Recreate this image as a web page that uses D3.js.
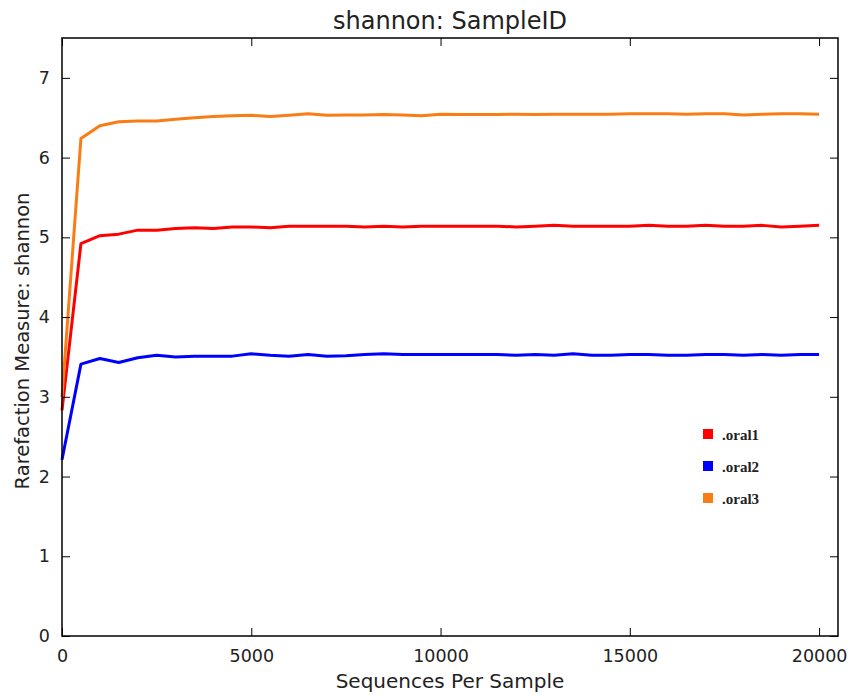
<!DOCTYPE html>
<html>
<head>
<meta charset="utf-8">
<script src="https://cdn.jsdelivr.net/npm/d3@7"></script>
<style>
  html, body { margin: 0; padding: 0; background: #fff; }
  svg { display: block; }
</style>
</head>
<body>
<div id="chart"></div>
<script>
// Rarefaction depths (sequences per sample)
const depths = d3.range(0, 20001, 500);

// Shannon diversity at each depth, one array per sample
const oral1 = [2.83, 4.92, 5.02, 5.04, 5.09, 5.09, 5.11, 5.12, 5.11, 5.13, 5.13, 5.12, 5.14, 5.14, 5.14, 5.14, 5.13, 5.14, 5.13, 5.14, 5.14,
               5.14, 5.14, 5.14, 5.13, 5.14, 5.15, 5.14, 5.14, 5.14, 5.14, 5.15, 5.14, 5.14, 5.15, 5.14, 5.14, 5.15, 5.13, 5.14, 5.15];
const oral2 = [2.21, 3.41, 3.48, 3.43, 3.49, 3.52, 3.50, 3.51, 3.51, 3.51, 3.54, 3.52, 3.51, 3.53, 3.51, 3.515, 3.53, 3.54, 3.53, 3.53, 3.53,
               3.53, 3.53, 3.53, 3.52, 3.53, 3.52, 3.54, 3.52, 3.52, 3.53, 3.53, 3.52, 3.52, 3.53, 3.53, 3.52, 3.53, 3.52, 3.53, 3.53];
const oral3 = [3.00, 6.24, 6.40, 6.45, 6.46, 6.46, 6.48, 6.50, 6.515, 6.525, 6.53, 6.515, 6.53, 6.55, 6.53, 6.535, 6.535, 6.54, 6.535, 6.525, 6.545,
               6.54, 6.54, 6.54, 6.545, 6.54, 6.545, 6.545, 6.545, 6.545, 6.55, 6.55, 6.55, 6.545, 6.55, 6.55, 6.535, 6.545, 6.55, 6.55, 6.545];

const sampleNames = [".oral1", ".oral2", ".oral3"];
const sampleColors = ["#ff0000", "#0000ff", "#f97d14"];
const sampleValues = [oral1, oral2, oral3];

const xTicks = [0, 5000, 10000, 15000, 20000];
const yTicks = [0, 1, 2, 3, 4, 5, 6, 7];

const W = 851, H = 696;
const margin = { left: 62, right: 13, top: 38, bottom: 60 };
const iw = W - margin.left - margin.right;
const ih = H - margin.top - margin.bottom;

const svg = d3.select("#chart").append("svg")
  .attr("width", W).attr("height", H)
  .style("font-family", "'DejaVu Sans', sans-serif");

const g = svg.append("g").attr("transform", `translate(${margin.left},${margin.top})`);

const x = d3.scaleLinear().domain([0, 20500]).range([0, iw]);
const y = d3.scaleLinear().domain([0, 7.5]).range([ih, 0]);

// Lines
const line = d3.line()
  .x((d, i) => x(depths[i]))
  .y(d => y(d));

g.selectAll("path.series")
  .data(sampleValues)
  .enter().append("path")
  .attr("class", "series")
  .attr("fill", "none")
  .attr("stroke", (d, i) => sampleColors[i])
  .attr("stroke-width", 3)
  .attr("stroke-linejoin", "round")
  .attr("d", line);

// Axes with inward ticks on all four sides
const tickLen = 8;
const styleAxis = sel => {
  sel.select(".domain").remove();
  sel.selectAll(".tick line").attr("stroke", "#000").attr("stroke-width", 1);
  sel.selectAll(".tick text").attr("fill", "#222").style("font-size", "17.5px")
    .style("font-family", "'DejaVu Sans', sans-serif");
};

g.append("g").attr("transform", `translate(0,${ih})`)
  .call(d3.axisBottom(x).tickValues(xTicks).tickFormat(d3.format("d"))
    .tickSizeInner(-tickLen).tickSizeOuter(0).tickPadding(14))
  .call(styleAxis);

g.append("g")
  .call(d3.axisTop(x).tickValues(xTicks).tickFormat("")
    .tickSizeInner(-tickLen).tickSizeOuter(0))
  .call(styleAxis);

g.append("g")
  .call(d3.axisLeft(y).tickValues(yTicks).tickFormat(d3.format("d"))
    .tickSizeInner(-tickLen).tickSizeOuter(0).tickPadding(12))
  .call(styleAxis);

g.append("g").attr("transform", `translate(${iw},0)`)
  .call(d3.axisRight(y).tickValues(yTicks).tickFormat("")
    .tickSizeInner(-tickLen).tickSizeOuter(0))
  .call(styleAxis);

// Frame
g.append("rect")
  .attr("x", 0).attr("y", 0).attr("width", iw).attr("height", ih)
  .attr("fill", "none").attr("stroke", "#000").attr("stroke-width", 1.5);

// Title and axis labels
svg.append("text")
  .attr("x", margin.left + iw / 2).attr("y", 29)
  .attr("text-anchor", "middle")
  .style("font-size", "24px").attr("fill", "#222")
  .text("shannon: SampleID");

svg.append("text")
  .attr("x", margin.left + iw / 2).attr("y", 688)
  .attr("text-anchor", "middle")
  .style("font-size", "20px").attr("fill", "#222")
  .text("Sequences Per Sample");

svg.append("text")
  .attr("transform", `translate(29,${margin.top + ih / 2 + 4}) rotate(-90)`)
  .attr("text-anchor", "middle")
  .style("font-size", "19.5px").attr("fill", "#222")
  .text("Rarefaction Measure: shannon");

// Legend
const legend = svg.append("g").attr("transform", "translate(703,429)");
const item = legend.selectAll("g.item")
  .data(sampleNames)
  .enter().append("g")
  .attr("class", "item")
  .attr("transform", (d, i) => `translate(0,${i * 32})`);

item.append("rect")
  .attr("width", 10).attr("height", 10)
  .attr("fill", (d, i) => sampleColors[i]);

item.append("text")
  .attr("x", 19).attr("y", 11)
  .style("font-family", "'Liberation Serif', 'Times New Roman', serif")
  .style("font-size", "15px").style("font-weight", "bold")
  .attr("fill", "#222")
  .text(d => d);
</script>
</body>
</html>
